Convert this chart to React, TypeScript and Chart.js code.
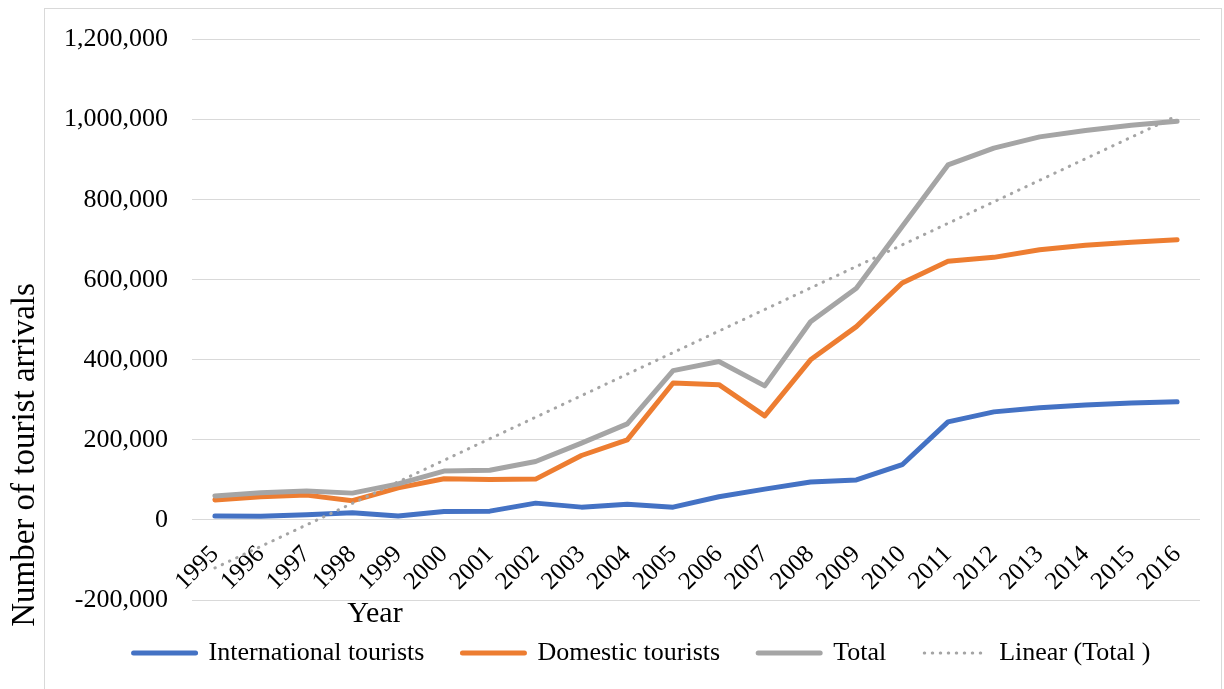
import React, { useEffect, useRef } from "react";
import { Chart, registerables } from "chart.js";

Chart.register(...registerables);

const years = ["1995","1996","1997","1998","1999","2000","2001","2002","2003","2004","2005","2006","2007","2008","2009","2010","2011","2012","2013","2014","2015","2016"];
const international = [10000, 9000, 13000, 18000, 10000, 21000, 22000, 42000, 32000, 39000, 32000, 58000, 77000, 95000, 100000, 138000, 245000, 270000, 280000, 287000, 292000, 295000];
const domestic = [50000, 58000, 62000, 48000, 80000, 103000, 101000, 102000, 161000, 200000, 342000, 338000, 260000, 400000, 483000, 592000, 646000, 656000, 675000, 686000, 694000, 700000];
const total = [60000, 68000, 72000, 67000, 90000, 122000, 124000, 146000, 192000, 240000, 373000, 396000, 335000, 495000, 579000, 733000, 887000, 929000, 957000, 973000, 986000, 996000];
const linearTotal = [-120000, null, null, null, null, null, null, null, null, null, null, null, null, null, null, null, null, null, null, null, null, 1010000];
const seriesNames = ["International tourists", "Domestic tourists", "Total", "Linear (Total )"];
const yMin = -200000;
const yMax = 1200000;
const yStep = 200000;

const FONT = "'Times New Roman', 'Liberation Serif', serif";

const decor = {
  id: "decor",
  afterLayout(chart: any) {
    const lg = chart.legend;
    if (lg) {
      lg.left += 42;
      lg.right += 42;
      lg.top += 2;
      lg.bottom += 2;
    }
  },
  beforeDraw(chart: any) {
    const ctx = chart.ctx;
    ctx.save();
    ctx.strokeStyle = "#D9D9D9";
    ctx.lineWidth = 1;
    ctx.strokeRect(44.5, 8.5, 1177, 700);
    ctx.restore();
  },
  afterDraw(chart: any) {
    const ctx = chart.ctx;
    ctx.save();
    ctx.fillStyle = "#000";
    ctx.textAlign = "center";
    ctx.textBaseline = "middle";
    ctx.font = `30px ${FONT}`;
    ctx.fillText("Year", 375, 614);
    ctx.translate(25, 455);
    ctx.rotate(-Math.PI / 2);
    ctx.font = `33px ${FONT}`;
    ctx.fillText("Number of tourist arrivals", 0, 0);
    ctx.restore();
  },
};

export default function App() {
  const ref = useRef<HTMLCanvasElement>(null);
  useEffect(() => {
    const lineBase = {
      pointRadius: 0,
      pointHoverRadius: 0,
      borderWidth: 5,
      borderCapStyle: "round",
      borderJoinStyle: "round",
      tension: 0,
      fill: false,
    };
    const chart = new Chart(ref.current!, {
      type: "line",
      data: {
        labels: years,
        datasets: [
          { ...lineBase, label: seriesNames[0], data: international, borderColor: "#4472C4", backgroundColor: "#4472C4", order: 3 },
          { ...lineBase, label: seriesNames[1], data: domestic, borderColor: "#ED7D31", backgroundColor: "#ED7D31", order: 2 },
          { ...lineBase, label: seriesNames[2], data: total, borderColor: "#A5A5A5", backgroundColor: "#A5A5A5", order: 1 },
          { ...lineBase, label: seriesNames[3], data: linearTotal, borderColor: "#A5A5A5", backgroundColor: "#A5A5A5", borderWidth: 3, borderDash: [0.5, 7.5], spanGaps: true, order: 0 },
        ] as any,
      },
      options: {
        animation: false,
        responsive: false,
        maintainAspectRatio: false,
        layout: { padding: { left: 0, right: 24, top: 38, bottom: 15 } },
        plugins: {
          tooltip: { enabled: false },
          legend: {
            position: "bottom",
            labels: {
              usePointStyle: true,
              pointStyle: "line",
              pointStyleWidth: 62,
              boxHeight: 26,
              padding: 38,
              color: "#000",
              font: { family: FONT, size: 26 },
              sort: (a: any, b: any) => a.datasetIndex - b.datasetIndex,
              generateLabels: (c: any) => {
                const items = (Chart.defaults.plugins.legend.labels as any).generateLabels(c);
                items.forEach((it: any) => {
                  const ds = c.data.datasets[it.datasetIndex];
                  it.lineDash = ds.borderDash || [];
                  it.lineCap = "round";
                  it.lineWidth = ds.borderWidth;
                  it.strokeStyle = ds.borderColor;
                });
                return items;
              },
            },
          },
        },
        scales: {
          x: {
            position: { y: 0 } as any,
            offset: true,
            grid: { display: false, drawTicks: false },
            border: { display: false },
            ticks: {
              minRotation: 45,
              maxRotation: 45,
              autoSkip: false,
              padding: 20,
              color: "#000",
              font: { family: FONT, size: 25 },
            },
          },
          y: {
            min: yMin,
            max: yMax,
            grid: { color: "#D9D9D9", lineWidth: 1, drawTicks: false },
            border: { display: false },
            ticks: {
              stepSize: yStep,
              padding: 24,
              color: "#000",
              font: { family: FONT, size: 26 },
              callback: (v: any) => Number(v).toLocaleString("en-US"),
            },
            afterFit: (scale: any) => {
              scale.width = 192;
            },
          },
        },
      },
      plugins: [decor],
    });
    return () => chart.destroy();
  }, []);
  return (
    <div style={{ position: "absolute", left: 0, top: 0, width: 1224, height: 689 }}>
      <canvas ref={ref} width={1224} height={689} style={{ width: 1224, height: 689 }} />
    </div>
  );
}
